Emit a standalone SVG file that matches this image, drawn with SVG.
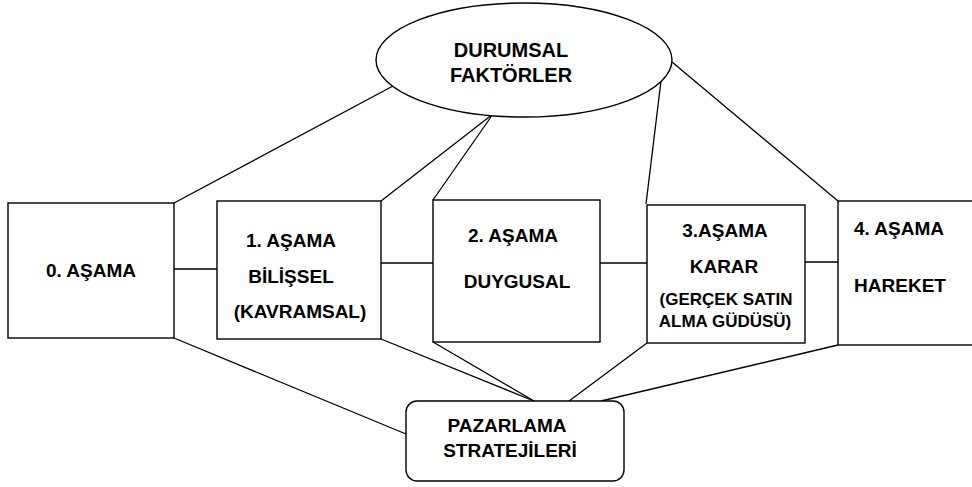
<svg xmlns="http://www.w3.org/2000/svg" width="972" height="487" viewBox="0 0 972 487">
<style>
.s{fill:#fff;stroke:#000;stroke-width:1.4}
.c line{stroke:#000;stroke-width:1.3}
text{font-family:"Liberation Sans",Arial,sans-serif;font-weight:bold;font-size:19px;fill:#000;text-anchor:middle}
.sm{font-size:17px}
</style>
<rect width="972" height="487" fill="#fff"/>
<g class="c" id="connectors">
<line x1="393" y1="86" x2="174" y2="203"/>
<line x1="493" y1="114" x2="381" y2="201"/>
<line x1="493" y1="114" x2="433" y2="200"/>
<line x1="661" y1="81" x2="646" y2="204"/>
<line x1="672" y1="62" x2="838" y2="201"/>
<line x1="174" y1="269" x2="217" y2="269"/>
<line x1="381" y1="263" x2="433" y2="263"/>
<line x1="600" y1="263" x2="647" y2="263"/>
<line x1="805" y1="262" x2="838" y2="262"/>
<line x1="174" y1="338" x2="406" y2="434"/>
<line x1="381" y1="339" x2="534" y2="401"/>
<line x1="433" y1="342" x2="534" y2="401"/>
<line x1="647" y1="343" x2="569" y2="401"/>
<line x1="838" y1="345" x2="601" y2="401"/>
</g>
<g id="durumsal">
<ellipse class="s" cx="524" cy="60" rx="148" ry="57"/>
<text x="511" y="57" style="font-size:20px">DURUMSAL</text>
<text x="511" y="82" style="font-size:20px">FAKTÖRLER</text>
</g>
<g id="asama0">
<rect class="s" x="8" y="203" width="166" height="135"/>
<text x="91" y="277">0. AŞAMA</text>
</g>
<g id="asama1">
<rect class="s" x="217" y="201" width="164" height="138"/>
<text x="291" y="247">1. AŞAMA</text>
<text x="291" y="283">BİLİŞSEL</text>
<text x="300" y="318">(KAVRAMSAL)</text>
</g>
<g id="asama2">
<rect class="s" x="433" y="200" width="167" height="142"/>
<text x="513" y="242">2. AŞAMA</text>
<text x="517" y="288">DUYGUSAL</text>
</g>
<g id="asama3">
<rect class="s" x="647" y="205" width="158" height="138"/>
<text x="725" y="237">3.AŞAMA</text>
<text x="724" y="273">KARAR</text>
<text class="sm" x="726" y="305">(GERÇEK SATIN</text>
<text class="sm" x="725" y="327">ALMA GÜDÜSÜ)</text>
</g>
<g id="asama4">
<rect class="s" x="838" y="201" width="150" height="144"/>
<text x="899" y="235">4. AŞAMA</text>
<text x="900" y="292">HAREKET</text>
</g>
<g id="pazarlama">
<rect class="s" x="406" y="401" width="218" height="80" rx="11" ry="11"/>
<text x="507" y="432">PAZARLAMA</text>
<text x="510" y="457">STRATEJİLERİ</text>
</g>
</svg>
